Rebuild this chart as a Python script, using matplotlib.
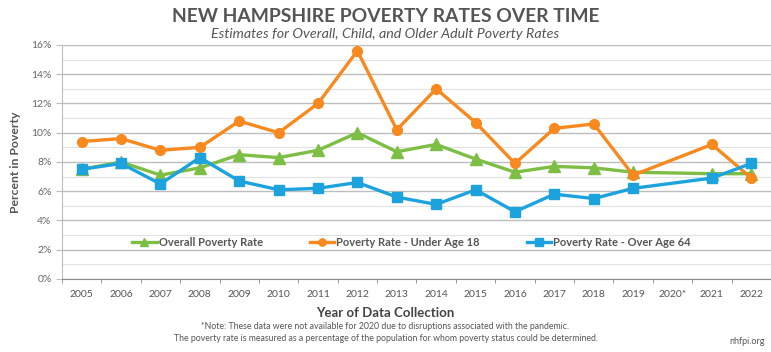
import numpy as np
import matplotlib.pyplot as plt
from matplotlib.ticker import MultipleLocator, FuncFormatter

years = ["2005", "2006", "2007", "2008", "2009", "2010", "2011", "2012", "2013",
         "2014", "2015", "2016", "2017", "2018", "2019", "2020*", "2021", "2022"]
overall = [7.5, 8.0, 7.1, 7.6, 8.5, 8.3, 8.8, 10.0, 8.7, 9.2, 8.2, 7.3, 7.7, 7.6, 7.3, np.nan, 7.2, 7.2]
under18 = [9.4, 9.6, 8.8, 9.0, 10.8, 10.0, 12.0, 15.6, 10.2, 13.0, 10.7, 7.9, 10.3, 10.6, 7.1, np.nan, 9.2, 6.9]
over64 = [7.5, 7.9, 6.5, 8.3, 6.7, 6.1, 6.2, 6.6, 5.6, 5.1, 6.1, 4.6, 5.8, 5.5, 6.2, np.nan, 6.9, 7.9]

plt.rcParams['font.family'] = ['Lato', 'DejaVu Sans']

fig = plt.figure(figsize=(7.71, 3.52), dpi=100)
ax = fig.add_axes([0.0804, 0.2074, 0.9196, 0.6648])

x = np.arange(len(years))
series = [
    (overall, "Overall Poverty Rate", "#7DBE44", "^", 8),
    (under18, "Poverty Rate - Under Age 18", "#F7891F", "o", 7),
    (over64, "Poverty Rate - Over Age 64", "#1CA3DE", "s", 7.5),
]
for vals, label, color, marker, ms in series:
    v = np.array(vals)
    ok = ~np.isnan(v)
    ax.plot(x[ok], v[ok], color=color, lw=2.4, marker=marker, ms=ms,
            label=label, zorder=3)

ax.set_xlim(-0.5, len(years) - 0.5)
ax.set_ylim(0, 16)
ax.yaxis.set_major_locator(MultipleLocator(2))
ax.yaxis.set_minor_locator(MultipleLocator(1))
ax.yaxis.set_major_formatter(FuncFormatter(lambda v, p: f"{v:.0f}%"))
ax.grid(axis='y', which='major', color='#BDBDBD', lw=1.0)
ax.grid(axis='y', which='minor', color='#E2E2E2', lw=0.8)
ax.set_axisbelow(True)

ax.set_xticks(x)
ax.set_xticklabels(years)
ax.set_xticks(np.arange(-0.5, len(years), 1), minor=True)
ax.tick_params(axis='x', which='major', length=0, labelsize=7.5,
               labelcolor='#555555', pad=8)
ax.tick_params(axis='x', which='minor', length=3, color='#888888')
ax.tick_params(axis='y', which='major', length=4, color='#BDBDBD',
               labelsize=7.5, labelcolor='#666666')
ax.tick_params(axis='y', which='minor', length=0)

for s in ['top', 'right']:
    ax.spines[s].set_visible(False)
ax.spines['left'].set_color('#BDBDBD')
ax.spines['bottom'].set_color('#888888')

ax.set_ylabel("Percent in Poverty", fontsize=8.8, fontweight='bold',
              color='#555555', labelpad=7)

ax.legend(loc='center left', bbox_to_anchor=(0.085, 0.158), ncol=3, frameon=False,
          handlelength=2.2, columnspacing=4.2, handletextpad=0.2, markerscale=0.75,
          labelcolor='#555555', prop={'weight': 'bold', 'size': 8})

fig.text(0.5, 0.952, "NEW HAMPSHIRE POVERTY RATES OVER TIME", ha='center',
         va='center', fontsize=13.9, fontweight='bold', color='#555555')
fig.text(0.5, 0.903, "Estimates for Overall, Child, and Older Adult Poverty Rates",
         ha='center', va='center', fontsize=10.3, style='italic', color='#555555')
fig.text(0.5, 0.11, "Year of Data Collection", ha='center', va='center',
         fontsize=9.5, fontweight='bold', color='#444444')
fig.text(0.5, 0.072, "*Note: These data were not available for 2020 due to disruptions "
         "associated with the pandemic.", ha='center', va='center', fontsize=6.3,
         color='#555555')
fig.text(0.5, 0.037, "The poverty rate is measured as a percentage of the population "
         "for whom poverty status could be determined.", ha='center', va='center',
         fontsize=6.3, color='#555555')
fig.text(0.992, 0.03, "nhfpi.org", ha='right', va='center', fontsize=6.5,
         color='#555555')

fig.savefig("out.png", dpi=100)
